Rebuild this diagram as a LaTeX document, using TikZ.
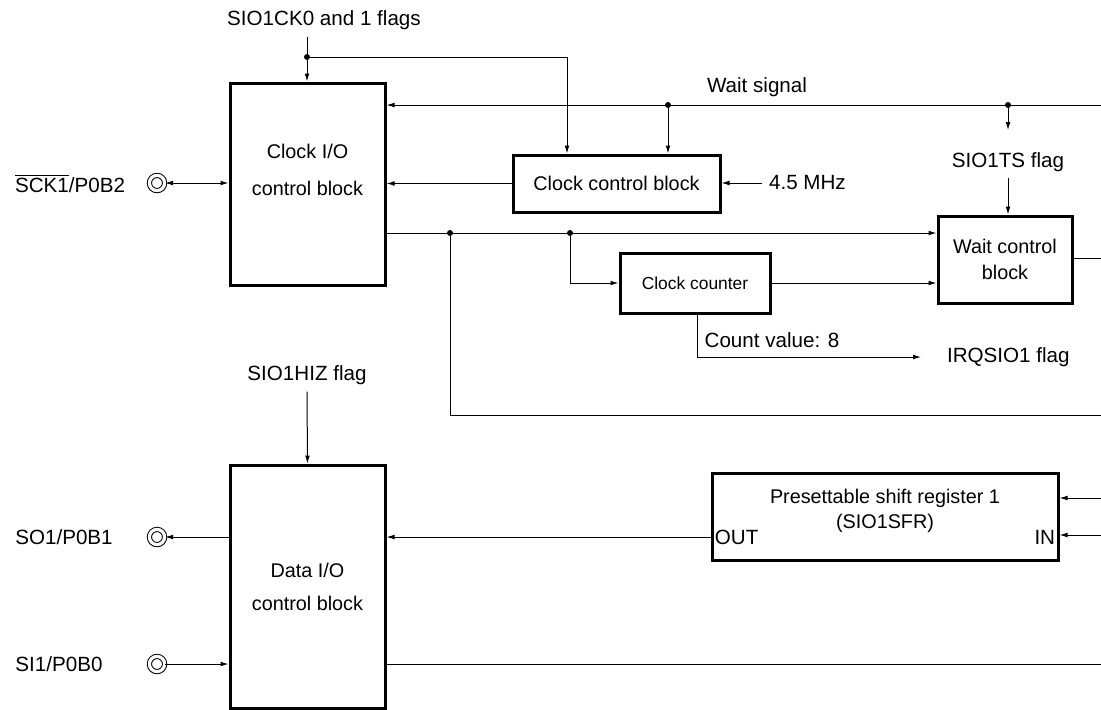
\documentclass[tikz,border=0pt]{standalone}
\usepackage{fontspec}
\setmainfont{Liberation Sans}
\usetikzlibrary{arrows.meta}
\begin{document}
\begin{tikzpicture}[x=0.5pt,y=-0.5pt,>={Latex[length=4pt,width=2.4pt]},
  font=\fontsize{10.3}{11.5}\selectfont,
  blk/.style={draw,line width=1.5pt,inner sep=0pt,align=center,
    font=\fontsize{9.9}{11.5}\selectfont},
  port/.style={circle,draw,double,double distance=1.6pt,line width=0.5pt,
    minimum size=7.6pt,inner sep=0pt},
  edge/.style={->,line width=0.5pt},
  wire/.style={line width=0.5pt},
  dot/.style={circle,fill,inner sep=0pt,minimum size=3pt}]
\useasboundingbox (0,0) rectangle (1101,709);
% blocks
\node[blk,minimum width=77.5pt,minimum height=101pt] (cio) at (307.5,184)
  {Clock I/O\\[7pt]control block\\[2.5pt]};
\node[blk,minimum width=103.5pt,minimum height=28.5pt] (ccb) at (616.5,183.5)
  {Clock control block};
\node[blk,minimum width=75pt,minimum height=30pt,
  font=\fontsize{8.7}{10}\selectfont] (cnt) at (695,283) {Clock counter};
\node[blk,minimum width=67pt,minimum height=43.5pt] (wcb) at (1005,259.5)
  {Wait control\\[1.5pt]block};
\node[blk,minimum width=77.5pt,minimum height=121.5pt] (dio) at (307.5,586.5)
  {Data I/O\\[5pt]control block};
\node[blk,minimum width=173pt,minimum height=43.5pt] (sfr) at (885,516.5)
  {Presettable shift register 1\\[1pt](SIO1SFR)\\[-4pt]};
% ports and labels
\node[port] (sckp) at (157,183) {};
\node[port] (sop) at (157,537) {};
\node[port] (sip) at (157,664) {};
\node (scklbl) at (70,183) {$\overline{\hbox{SCK1}}$/P0B2};
\node (solbl) at (64,537) {SO1/P0B1};
\node (silbl) at (59,664) {SI1/P0B0};
\node (cklbl) at (324,20) {SIO1CK0 and 1 flags};
\node (wslbl) at (757,87) {Wait signal};
\node (tslbl) at (1008,162) {SIO1TS flag};
\node[anchor=west] (mhz) at (762,183) {4.5 MHz};
\node (cvlbl) at (772,340) {Count value: 8};
\node[anchor=west] (irq) at (940,357) {IRQSIO1 flag};
\node (hiz) at (307,375) {SIO1HIZ flag};
\node[anchor=west,inner sep=2pt] (outlbl) at (sfr.west |- sop) {OUT};
\node[anchor=east,inner sep=2pt] (inlbl) at (sfr.east |- sop) {IN};
% junctions and free ends
\node[dot] (ckdot) at (307,57) {};
\node[dot] (wdot1) at (668,105) {};
\node[dot] (wdot2) at (1008,105) {};
\node[dot] (cdot1) at (450,233) {};
\node[dot] (cdot2) at (570,233) {};
\coordinate (ckin) at (567,57);
\coordinate (wsR) at (1101,105);
\coordinate (wcR) at (1101,258);
\coordinate (botR) at (1101,415);
\coordinate (inA) at (1101,498);
\coordinate (inB) at (1101,535);
\coordinate (siR) at (1101,664);
\coordinate (tsA) at (1008,130);
\coordinate (tsB) at (1008,178);
\coordinate (cvc) at (697,357);
\coordinate (irqa) at (921,357);
% connectors
\draw[wire] (ckdot |- cklbl.south) -- (ckdot);
\draw[edge] (ckdot) -- (ckdot |- cio.north);
\draw[edge] (ckdot) -- (ckin) -- (ckin |- ccb.north);
\draw[edge] (wsR) -- (wsR -| cio.east);
\draw[edge] (wdot1) -- (wdot1 |- ccb.north);
\draw[edge] (wdot2) -- (tsA);
\draw[edge] (tsB) -- (tsB |- wcb.north);
\draw[edge] (mhz.west) -- (ccb.east |- mhz);
\draw[edge] (ccb.west) -- (ccb.west -| cio.east);
\draw[{Latex[length=4pt,width=2.4pt]}-{Latex[length=4pt,width=2.4pt]},
  line width=0.5pt] (sckp) -- (sckp -| cio.west);
\draw[edge] (cio.east |- cdot1) -- (cdot1 -| wcb.west);
\draw[edge] (cdot2) |- (cnt.west);
\draw[edge] (cnt.east) -- (cnt.east -| wcb.west);
\draw[wire] (wcb.east |- wcR) -- (wcR);
\draw[edge] (cnt.south -| cvc) |- (irqa);
\draw[wire] (cdot1) |- (botR);
\draw[edge] (hiz.south) -- (dio.north);
\draw[edge] (dio.west |- sop) -- (sop);
\draw[edge] (sip) -- (sip -| dio.west);
\draw[wire] (dio.east |- siR) -- (siR);
\draw[edge] (sfr.west |- sop) -- (sop -| dio.east);
\draw[edge] (inA) -- (inA -| sfr.east);
\draw[edge] (inB) -- (inB -| sfr.east);
\end{tikzpicture}
\end{document}
